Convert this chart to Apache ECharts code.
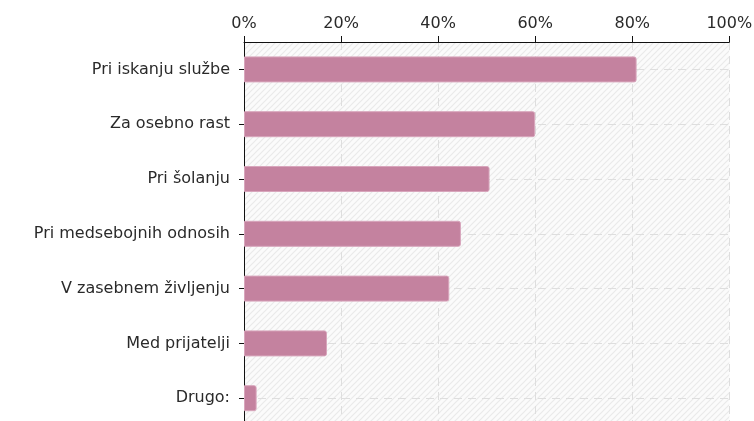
<!DOCTYPE html>
<html>
<head>
<meta charset="utf-8">
<script src="https://cdn.jsdelivr.net/npm/echarts@6/dist/echarts.min.js"></script>
<style>
html,body{margin:0;padding:0;background:#fff;}
#c{width:754px;height:421px;}
</style>
</head>
<body>
<div id="c"></div>
<script>
const categories = ['Pri iskanju službe','Za osebno rast','Pri šolanju','Pri medsebojnih odnosih','V zasebnem življenju','Med prijatelji','Drugo:'];
const values = [80.9, 60.0, 50.6, 44.7, 42.3, 17.1, 2.6];
const xTicks = [0, 20, 40, 60, 80, 100];

function hatch(){
  const s = 6;
  const cv = document.createElement('canvas');
  cv.width = s; cv.height = s;
  const ctx = cv.getContext('2d');
  ctx.fillStyle = '#fbfbfb';
  ctx.fillRect(0,0,s,s);
  ctx.strokeStyle = '#eaeaea';
  ctx.lineWidth = 1.2;
  ctx.beginPath();
  ctx.moveTo(-1, s+1); ctx.lineTo(s+1, -1);
  ctx.moveTo(-1, 1); ctx.lineTo(1, -1);
  ctx.moveTo(s-1, s+1); ctx.lineTo(s+1, s-1);
  ctx.stroke();
  return cv;
}

const font = 'DejaVu Sans';
const chart = echarts.init(document.getElementById('c'), null, {renderer:'canvas'});
chart.setOption({
  animation: false,
  backgroundColor: '#ffffff',
  grid: {
    show: true,
    left: 244, top: 42, width: 485.3, height: 383.6,
    outerBoundsMode: 'none',
    backgroundColor: {image: hatch(), repeat: 'repeat'},
    borderWidth: 0,
    containLabel: false
  },
  xAxis: {
    type: 'value',
    position: 'top',
    min: xTicks[0], max: xTicks[xTicks.length-1], interval: xTicks[1]-xTicks[0],
    axisLine: {show: true, lineStyle: {color: '#111', width: 1}},
    axisTick: {show: true, length: 6, lineStyle: {color: '#111'}},
    axisLabel: {formatter: '{value}%', color: '#2a2a2a', fontFamily: font, fontSize: 16, margin: 10},
    splitLine: {show: true, lineStyle: {color: '#dedede', type: [8,6], width: 1}}
  },
  yAxis: {
    type: 'category',
    inverse: true,
    data: categories,
    axisLine: {show: true, lineStyle: {color: '#111', width: 1}},
    axisTick: {show: true, length: 5, alignWithLabel: true, lineStyle: {color: '#111'}},
    axisLabel: {color: '#2a2a2a', fontFamily: font, fontSize: 16, margin: 14},
    splitLine: {show: true, alignWithLabel: true, lineStyle: {color: '#dedede', type: [8,6], width: 1}}
  },
  series: [{
    type: 'bar',
    data: values,
    barWidth: 26,
    itemStyle: {color: '#c4829f', borderColor: '#d8a6bc', borderWidth: 1, borderRadius: [0,2,2,0]}
  }]
});
</script>
</body>
</html>
